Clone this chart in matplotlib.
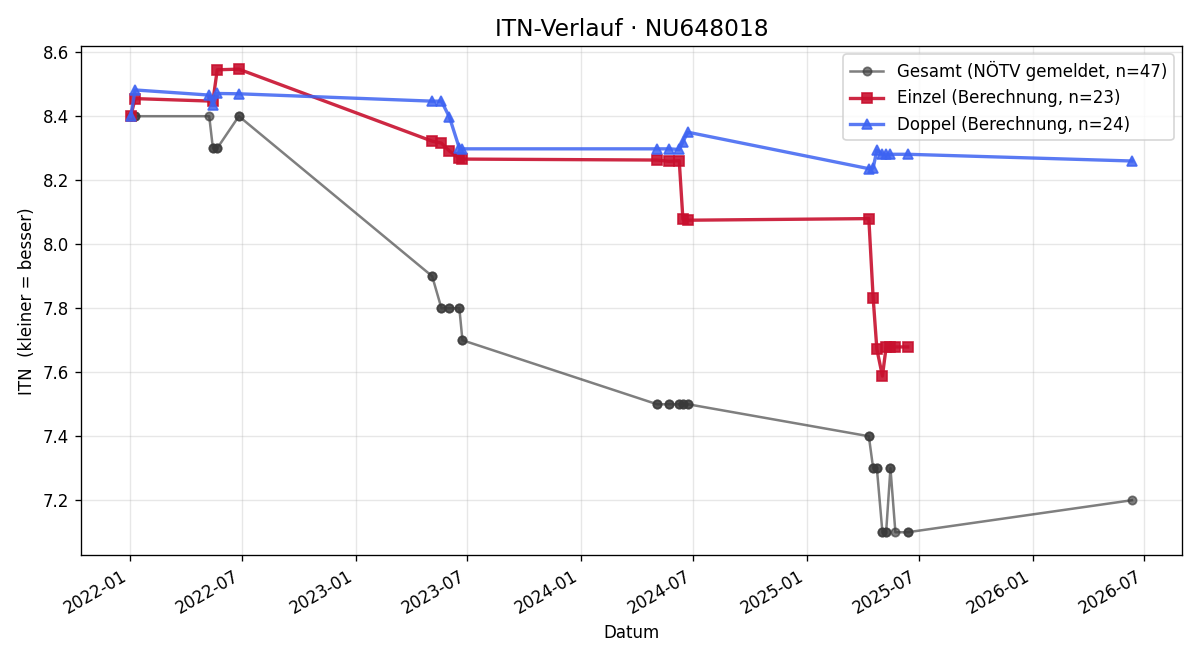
import matplotlib
matplotlib.use("Agg")
import matplotlib.pyplot as plt
import matplotlib.dates as mdates
import pandas as pd

# Einzel (Berechnung), n=23
einzel_dates = ["2022-01-02", "2022-01-09", "2022-05-15", "2022-05-22", "2022-06-26",
                "2023-05-05", "2023-05-20", "2023-06-02", "2023-06-18", "2023-06-23",
                "2024-05-03", "2024-05-23", "2024-06-08", "2024-06-14", "2024-06-22",
                "2025-04-11", "2025-04-18", "2025-04-24", "2025-05-03", "2025-05-09",
                "2025-05-16", "2025-05-24", "2025-06-13"]
einzel_itn = [8.40, 8.455, 8.447, 8.545, 8.547,
              8.322, 8.316, 8.291, 8.269, 8.266,
              8.263, 8.259, 8.261, 8.078, 8.075,
              8.080, 7.832, 7.672, 7.588, 7.678,
              7.679, 7.679, 7.679]

# Doppel (Berechnung), n=24
doppel_dates = ["2022-01-02", "2022-01-09", "2022-05-09", "2022-05-15", "2022-05-22", "2022-06-26",
                "2023-05-05", "2023-05-20", "2023-06-02", "2023-06-18", "2023-06-23",
                "2024-05-03", "2024-05-23", "2024-06-08", "2024-06-14", "2024-06-22",
                "2025-04-11", "2025-04-18", "2025-04-24", "2025-05-03", "2025-05-09",
                "2025-05-16", "2025-06-13",
                "2026-06-11"]
doppel_itn = [8.40, 8.482, 8.466, 8.435, 8.471, 8.470,
              8.447, 8.447, 8.397, 8.300, 8.298,
              8.298, 8.298, 8.296, 8.320, 8.350,
              8.236, 8.238, 8.294, 8.281, 8.281,
              8.281, 8.281,
              8.260]

# Gesamt (NÖTV gemeldet) - gemeldeter Wert je Spieltag
gesamt_tage = ["2022-01-02", "2022-01-09", "2022-05-09", "2022-05-15", "2022-05-22", "2022-06-26",
               "2023-05-05", "2023-05-20", "2023-06-02", "2023-06-18", "2023-06-23",
               "2024-05-03", "2024-05-23", "2024-06-08", "2024-06-14", "2024-06-22",
               "2025-04-11", "2025-04-18", "2025-04-24", "2025-05-03", "2025-05-09",
               "2025-05-16", "2025-05-24", "2025-06-13",
               "2026-06-11"]
gesamt_tag_itn = [8.4, 8.4, 8.4, 8.3, 8.3, 8.4,
                  7.9, 7.8, 7.8, 7.8, 7.7,
                  7.5, 7.5, 7.5, 7.5, 7.5,
                  7.4, 7.3, 7.3, 7.1, 7.1,
                  7.3, 7.1, 7.1,
                  7.2]

# one Gesamt entry per match (Einzel + Doppel)
lookup = dict(zip(gesamt_tage, gesamt_tag_itn))
gesamt_dates = sorted(einzel_dates + doppel_dates)
gesamt_itn = [lookup[d] for d in gesamt_dates]

fig, ax = plt.subplots(figsize=(10, 5.5), dpi=120)

ax.plot(pd.to_datetime(gesamt_dates), gesamt_itn, marker="o", ms=5, lw=1.5,
        color="#3a3a3a", alpha=0.65, label=f"Gesamt (NÖTV gemeldet, n={len(gesamt_dates)})")
ax.plot(pd.to_datetime(einzel_dates), einzel_itn, marker="s", ms=6, lw=2,
        color="#c8102e", alpha=0.9, label=f"Einzel (Berechnung, n={len(einzel_dates)})")
ax.plot(pd.to_datetime(doppel_dates), doppel_itn, marker="^", ms=6, lw=2,
        color="#3d63f2", alpha=0.85, label=f"Doppel (Berechnung, n={len(doppel_dates)})")

ax.set_title("ITN-Verlauf · NU648018", fontsize=14)
ax.set_xlabel("Datum")
ax.set_ylabel("ITN  (kleiner = besser)")
ax.grid(True, alpha=0.3)
ax.legend(loc="upper right")

ax.xaxis.set_major_locator(mdates.MonthLocator(bymonth=[1, 7]))
ax.xaxis.set_major_formatter(mdates.DateFormatter("%Y-%m"))
fig.autofmt_xdate()

fig.tight_layout()
fig.savefig("out.png", dpi=120)
